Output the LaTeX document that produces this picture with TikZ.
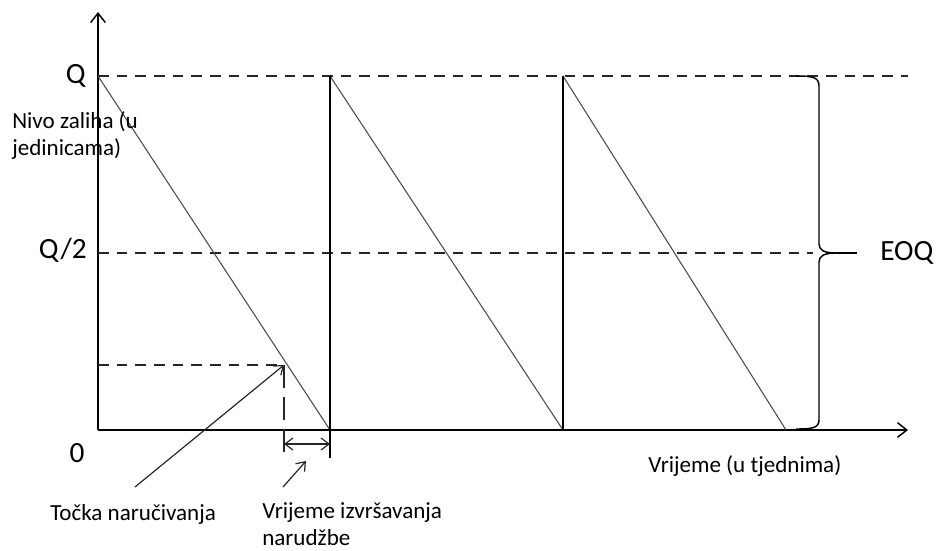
\documentclass[tikz,border=0pt]{standalone}
\usepackage{fontspec}
\setmainfont{Carlito}
\usetikzlibrary{arrows.meta, positioning}

\begin{document}
\begin{tikzpicture}[
    x=0.75pt, y=-0.75pt,
    axis/.style    = {draw=black, line width=1.1pt, -{Straight Barb[length=7pt, width=11pt]}},
    tooth/.style   = {draw=black!70, line width=0.8pt},
    riser/.style   = {draw=black, line width=1.1pt},
    level/.style   = {draw=black!85, line width=0.9pt, dash pattern=on 8pt off 6pt},
    marker/.style  = {draw=black!85, line width=0.9pt, dash pattern=on 17pt off 7pt},
    pointer/.style = {draw=black!85, line width=0.9pt, -{Straight Barb[length=6pt, width=9pt]}},
    span/.style    = {draw=black!85, line width=0.9pt, {Straight Barb[length=6pt, width=9pt]}-{Straight Barb[length=6pt, width=9pt]}},
    brace/.style   = {draw=black, line width=1.1pt},
    biglabel/.style = {font=\fontsize{22}{26}\selectfont, inner sep=0pt},
    txtlabel/.style = {font=\fontsize{17.3}{20.25}\selectfont, inner sep=0pt, align=left}
]

\useasboundingbox (0,0) rectangle (937,550);

% Axes
\coordinate (O)    at (98,430);
\coordinate (yend) at (98,12);
\coordinate (xend) at (908,430);
\draw [axis] (O) -- (yend);
\draw [axis] (O) -- (xend);

% Levels Q and Q/2
\coordinate (q0) at (98,76);
\coordinate (q1) at (908,76);
\coordinate (h0) at (98,253);
\coordinate (h1) at (813,253);
\draw [level] (q0) -- (q1);
\draw [level] (h0) -- (h1);

% Sawtooth
\coordinate (t1) at (330,430);
\coordinate (p1) at (330,76);
\coordinate (t2) at (563,430);
\coordinate (p2) at (563,76);
\coordinate (t3) at (786,430);
\draw [tooth] (q0) -- (t1);
\draw [tooth] (p1) -- (t2);
\draw [tooth] (p2) -- (t3);
\draw [riser] (t1) -- (p1);
\draw [riser] (t2) -- (p2);

% Reorder point and lead time
\coordinate (r)  at (284,365);
\coordinate (ry) at (98,365);
\coordinate (rd) at (284,458);
\coordinate (td) at (330,458);
\coordinate (s0) at (284,444);
\coordinate (s1) at (330,444);
\draw [level]  (ry) -- (r);
\draw [marker] (r) -- (rd);
\draw [riser, line width=0.9pt] (t1) -- (td);
\draw [span] (s0) -- (s1);

% Brace
\coordinate (btop) at (796,76);
\coordinate (btip) at (836,253);
\coordinate (bend) at (857,253);
\coordinate (bbot) at (796,429);
\draw [brace] (btop) .. controls (812,76) and (819,77) .. (819,86) -- (819,244)
    .. controls (819,250) and (824,253) .. (btip)
    .. controls (824,253) and (819,256) .. (819,262) -- (819,420)
    .. controls (819,428) and (812,429) .. (bbot);
\draw [brace] (btip) -- (bend);

% Labels
\node (Q)    [biglabel, anchor=east] at (86,76) {Q};
\node (Qh)   [biglabel, anchor=east] at (87,250) {Q/2};
\node (zero) [biglabel] at (77,453) {0};
\node (eoq)  [biglabel, anchor=west] at (880,253) {EOQ};
\node (ylab) [txtlabel, anchor=base west] at (12,155) {Nivo zaliha (u\\jedinicama)};
\node (xlab) [txtlabel, anchor=base west] at (648,472) {Vrijeme (u tjednima)};
\node (rlab) [txtlabel, anchor=base west] at (50,520) {Točka naručivanja};
\node (llab) [txtlabel, anchor=base west] at (262,545) {Vrijeme izvršavanja\\narudžbe};

% Pointers
\coordinate (rp) at (135,487);
\coordinate (lp) at (283,487);
\coordinate (lq) at (306,461);
\draw [pointer] (rp) -- (r);
\draw [pointer] (lp) -- (lq);

\end{tikzpicture}
\end{document}
